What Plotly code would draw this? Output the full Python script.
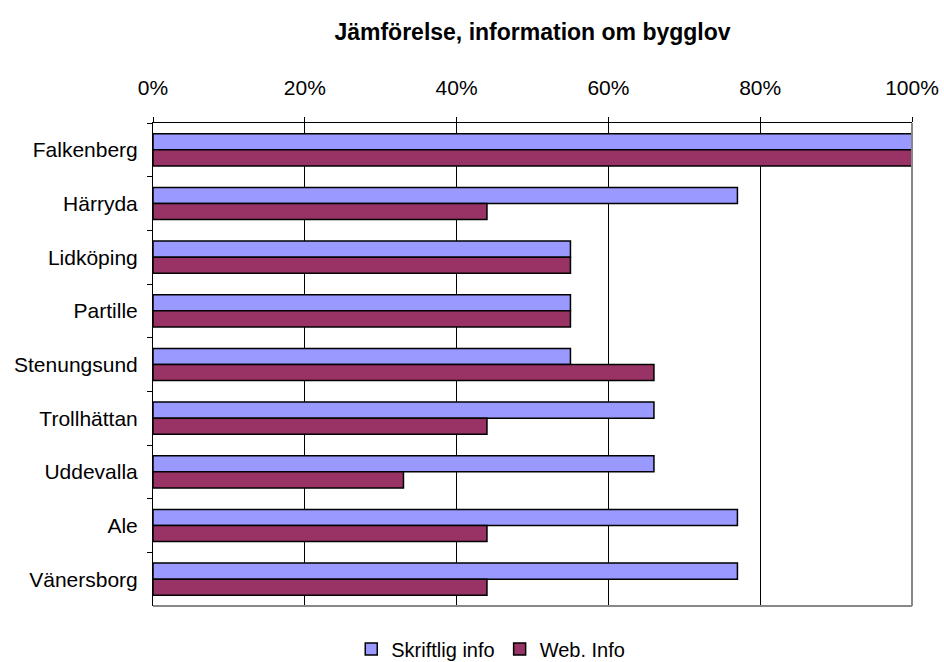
import plotly.graph_objects as go

categories = ["Falkenberg", "Härryda", "Lidköping", "Partille", "Stenungsund",
              "Trollhättan", "Uddevalla", "Ale", "Vänersborg"]
skriftlig = [1.00, 0.77, 0.55, 0.55, 0.55, 0.66, 0.66, 0.77, 0.77]
web = [1.00, 0.44, 0.55, 0.55, 0.66, 0.44, 0.33, 0.44, 0.44]
tick_vals = [0, 0.2, 0.4, 0.6, 0.8, 1.0]
tick_text = ["0%", "20%", "40%", "60%", "80%", "100%"]

FONT = "Liberation Sans, Arial, sans-serif"

fig = go.Figure()
fig.add_trace(go.Bar(y=categories, x=skriftlig, orientation="h", name="Skriftlig info",
                     marker=dict(color="#9999FF", line=dict(color="#000000", width=1.5))))
fig.add_trace(go.Bar(y=categories, x=web, orientation="h", name="Web. Info",
                     marker=dict(color="#993366", line=dict(color="#000000", width=1.5))))

fig.update_layout(
    width=944, height=662,
    margin=dict(l=153, r=32, t=123, b=56, autoexpand=False),
    paper_bgcolor="white", plot_bgcolor="white",
    font=dict(family=FONT, size=21, color="black"),
    title=dict(text="<b>Jämförelse, information om bygglov</b>", xref="paper", x=0.5,
               xanchor="center", y=1 - 32 / 662, yanchor="middle", font=dict(size=23)),
    barmode="group", bargap=0.4, bargroupgap=0,
    showlegend=True,
    legend=dict(orientation="h", x=0.445, xanchor="center", y=-0.089, yanchor="middle",
                font=dict(size=20), itemwidth=30, traceorder="normal"),
    xaxis=dict(side="top", range=[0, 1], tickvals=tick_vals, ticktext=tick_text,
               showgrid=True, gridcolor="#000000", gridwidth=1,
               ticks="outside", ticklen=5, tickcolor="black",
               showline=True, linecolor="#000000", linewidth=1, mirror=False,
               ticklabelstandoff=14, zeroline=False),
    yaxis=dict(autorange="reversed", showline=True, linecolor="#000000", linewidth=1,
               ticks="outside", ticklen=5, tickcolor="black", tickson="boundaries",
               showgrid=False, ticklabelstandoff=10),
    shapes=[
        dict(type="line", xref="paper", yref="paper", x0=1, x1=1, y0=0, y1=1,
             line=dict(color="#888888", width=2)),
        dict(type="line", xref="paper", yref="paper", x0=0, x1=1, y0=0, y1=0,
             line=dict(color="#888888", width=2)),
    ],
)

fig.write_html("out.html")
